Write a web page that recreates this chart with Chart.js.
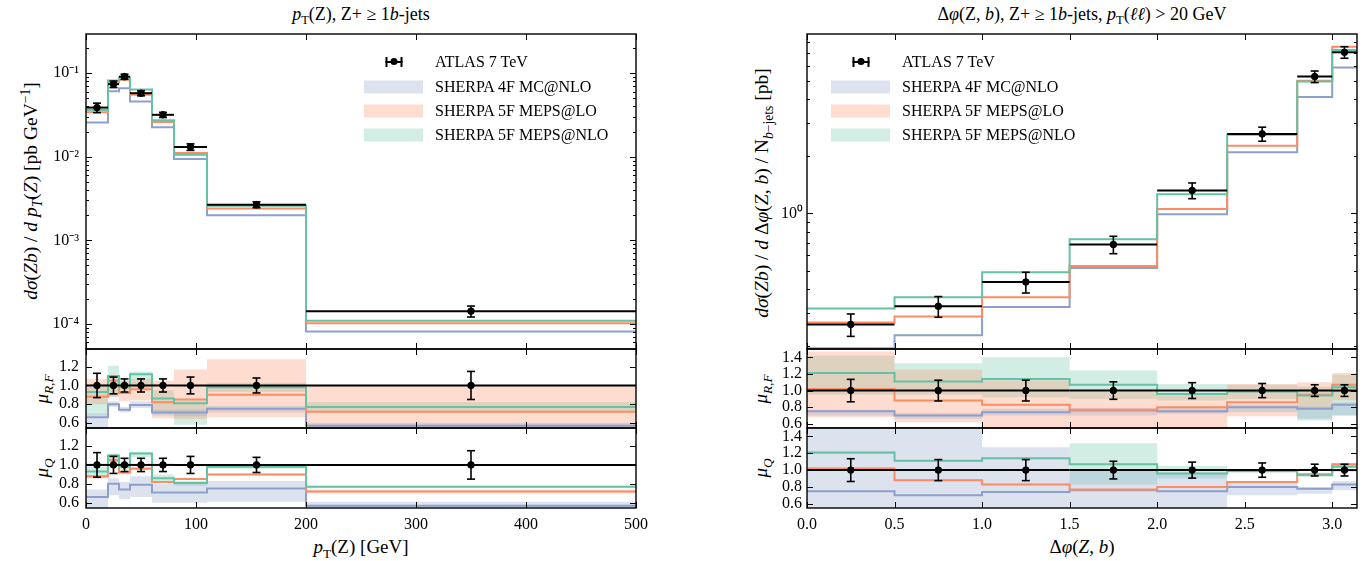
<!DOCTYPE html>
<html>
<head>
<meta charset="utf-8">
<script src="https://cdn.jsdelivr.net/npm/chart.js@4.4.0/dist/chart.umd.min.js"></script>
<style>
body{margin:0;background:#fff;width:1367px;height:561px;position:relative;overflow:hidden;font-family:'Liberation Serif',serif;color:#000}
canvas{position:absolute}
.t{position:absolute;white-space:nowrap;transform:translate(-50%,-50%);font-size:17px}
.r{transform:translate(-50%,-50%) rotate(-90deg)}
.leg{position:absolute;font-size:16px;white-space:nowrap;transform:translateY(-50%)}
.patch{position:absolute;width:59px;height:13px;transform:translateY(-50%)}
.mk{position:absolute;width:17px;height:2px;background:#000;transform:translate(-50%,-50%)}
.mk i{position:absolute;background:#000}
sub,sup{font-size:70%;line-height:0}
</style>
</head>
<body>

<div class="t" style="left:361px;top:14px;font-size:18px"><i>p</i><sub>T</sub>(Z), Z+ &ge; 1<i>b</i>-jets</div>
<div class="t" style="left:1082px;top:14px;font-size:18px">&Delta;<i>&phi;</i>(Z, <i>b</i>), Z+ &ge; 1<i>b</i>-jets, <i>p</i><sub>T</sub>(<i>&ell;&ell;</i>) &gt; 20 GeV</div>

<div class="t r" style="left:31px;top:191px;font-size:19.5px"><i>d&sigma;</i>(<i>Zb</i>) / <i>d p<sub>T</sub></i>(<i>Z</i>) [pb GeV<sup>&minus;1</sup>]</div>
<div class="t r" style="left:762px;top:193px;font-size:19.5px"><i>d&sigma;</i>(<i>Zb</i>) / <i>d</i> &Delta;<i>&phi;</i>(<i>Z</i>, <i>b</i>) / N<sub><i>b</i>&minus;jets</sub> [pb]</div>
<div class="t r" style="left:42px;top:389px;font-size:19px"><i>&mu;<sub>R,F</sub></i></div>
<div class="t r" style="left:42px;top:468px;font-size:19px"><i>&mu;<sub>Q</sub></i></div>
<div class="t r" style="left:761px;top:389px;font-size:19px"><i>&mu;<sub>R,F</sub></i></div>
<div class="t r" style="left:761px;top:468px;font-size:19px"><i>&mu;<sub>Q</sub></i></div>

<div class="t" style="left:361px;top:547px;font-size:19px"><i>p</i><sub>T</sub>(Z) [GeV]</div>
<div class="t" style="left:1082px;top:547px;font-size:19px">&Delta;<i>&phi;</i>(<i>Z</i>, <i>b</i>)</div>

<script>
// p_T(Z) distribution
const ptEdges = [0, 20, 30, 40, 60, 80, 110, 200, 500];
const ptCentres = [10, 25, 35, 50, 70, 95, 155, 350];
const ptData = [0.0388, 0.074, 0.091, 0.0577, 0.0318, 0.0131, 0.00267, 1.42e-4];
const ptErr = [0.13, 0.09, 0.07, 0.07, 0.07, 0.09, 0.08, 0.15];
const pt4F = [0.0258, 0.061, 0.066, 0.0458, 0.0226, 0.0094, 0.0020, 8.1e-5];
const ptLO = [0.0341, 0.0777, 0.0837, 0.0554, 0.0261, 0.0111, 0.0024, 1.02e-4];
const ptNLO = [0.0362, 0.082, 0.089, 0.064, 0.0273, 0.0106, 0.0026, 1.09e-4];
// ratio to data
const ptR4F = [0.66, 0.80, 0.74, 0.79, 0.71, 0.71, 0.75, 0.57];
const ptRLO = [0.88, 1.05, 0.92, 0.96, 0.82, 0.85, 0.90, 0.72];
const ptRNLO = [0.93, 1.10, 0.98, 1.12, 0.86, 0.81, 0.98, 0.77];
// mu_R,F bands
const ptRF4Flo = [0.55, 0.77, 0.71, 0.76, 0.68, 0.67, 0.71, 0.54];
const ptRF4Fhi = [0.70, 0.83, 0.77, 0.83, 0.74, 0.74, 0.78, 0.60];
const ptRFLOlo = [0.80, 0.88, 0.83, 0.84, 0.65, 0.64, 0.66, 0.54];
const ptRFLOhi = [1.07, 1.10, 1.05, 1.07, 1.05, 1.17, 1.28, 1.0];
const ptRFNLOlo = [0.68, 0.88, 0.95, 0.97, 0.70, 0.58, 0.93, 0.72];
const ptRFNLOhi = [1.0, 1.21, 1.05, 1.15, 0.95, 0.84, 1.03, 0.82];
// mu_Q bands
const ptQ4Flo = [0.54, 0.68, 0.64, 0.66, 0.60, 0.60, 0.61, 0.54];
const ptQ4Fhi = [0.74, 0.86, 0.82, 0.88, 0.80, 0.80, 0.83, 0.61];
const ptQLOlo = [0.86, 1.03, 0.90, 0.95, 0.81, 0.84, 0.89, 0.70];
const ptQLOhi = [0.89, 1.07, 0.93, 0.98, 0.83, 0.86, 0.91, 0.74];
const ptQNLOlo = [0.86, 1.03, 0.95, 1.08, 0.83, 0.78, 0.96, 0.76];
const ptQNLOhi = [0.98, 1.12, 1.02, 1.14, 0.90, 0.83, 1.0, 0.78];

// delta phi(Z,b) distribution
const dpEdges = [0, 0.5, 1.0, 1.5, 2.0, 2.4, 2.8, 3.0, Math.PI];
const dpCentres = [0.25, 0.75, 1.25, 1.75, 2.2, 2.6, 2.9, 3.07];
const dpData = [0.26, 0.324, 0.435, 0.685, 1.32, 2.62, 5.25, 7.05];
const dpErr = [0.135, 0.125, 0.125, 0.105, 0.095, 0.085, 0.07, 0.07];
const dp4F = [0.195, 0.228, 0.321, 0.515, 0.99, 2.10, 4.10, 5.87];
const dpLO = [0.266, 0.286, 0.362, 0.528, 1.055, 2.27, 4.99, 7.54];
const dpNLO = [0.315, 0.361, 0.49, 0.73, 1.26, 2.59, 4.94, 7.25];
const dpR4F = [0.75, 0.70, 0.74, 0.76, 0.75, 0.80, 0.78, 0.83];
const dpRLO = [1.02, 0.88, 0.83, 0.77, 0.80, 0.86, 0.95, 1.07];
const dpRNLO = [1.21, 1.11, 1.14, 1.07, 0.96, 0.99, 0.94, 1.04];
const dpRF4Flo = [0.70, 0.66, 0.70, 0.70, 0.72, 0.74, 0.66, 0.70];
const dpRF4Fhi = [0.77, 0.73, 0.78, 0.79, 0.79, 0.83, 0.81, 0.86];
const dpRFLOlo = [0.68, 0.62, 0.56, 0.55, 0.55, 0.69, 0.78, 0.88];
const dpRFLOhi = [1.47, 1.25, 1.12, 0.98, 0.96, 1.08, 1.10, 1.21];
const dpRFNLOlo = [0.95, 0.95, 0.92, 0.90, 0.88, 0.90, 0.64, 0.70];
const dpRFNLOhi = [1.42, 1.33, 1.40, 1.24, 1.08, 1.07, 1.05, 1.19];
const dpQ4Flo = [0.54, 0.54, 0.54, 0.54, 0.54, 0.70, 0.72, 0.76];
const dpQ4Fhi = [1.6, 1.6, 1.27, 1.0, 0.97, 0.86, 0.80, 0.87];
const dpQLOlo = [1.01, 0.87, 0.82, 0.76, 0.79, 0.85, 0.93, 1.05];
const dpQLOhi = [1.03, 0.89, 0.84, 0.78, 0.81, 0.87, 0.96, 1.08];
const dpQNLOlo = [1.19, 1.10, 1.13, 0.83, 0.90, 0.97, 0.93, 1.03];
const dpQNLOhi = [1.22, 1.12, 1.15, 1.32, 1.05, 1.0, 0.96, 1.06];

const legendLabels = ['ATLAS 7 TeV', 'SHERPA 4F MC@NLO', 'SHERPA 5F MEPS@LO', 'SHERPA 5F MEPS@NLO'];

const BLUE = '#8da0cb', ORANGE = '#fc8d62', GREEN = '#66c2a5';
const BLUE_B = 'rgba(141,160,203,0.3)', ORANGE_B = 'rgba(252,141,98,0.3)', GREEN_B = 'rgba(102,194,165,0.3)';

Chart.defaults.font.family = "'Liberation Serif', serif";
Chart.defaults.font.size = 16;
Chart.defaults.color = '#000';

function steps(edges, vals) {
  const pts = vals.map((v, i) => ({x: edges[i], y: v}));
  pts.push({x: edges[edges.length - 1], y: vals[vals.length - 1]});
  return pts;
}
function line(edges, vals, color, order) {
  return {data: steps(edges, vals), stepped: 'before', borderColor: color, borderWidth: 2,
    pointRadius: 0, fill: false, order: order};
}
function band(edges, lo, hi, color) {
  return [
    {data: steps(edges, hi), stepped: 'before', borderWidth: 0, borderColor: 'rgba(0,0,0,0)',
      pointRadius: 0, fill: '+1', backgroundColor: color, order: 20},
    {data: steps(edges, lo), stepped: 'before', borderWidth: 0, borderColor: 'rgba(0,0,0,0)',
      pointRadius: 0, fill: false, order: 20}
  ];
}
function points(xs, ys) {
  return {data: xs.map((x, i) => ({x: x, y: ys[i]})), showLine: false, pointRadius: 3.3,
    pointBackgroundColor: '#000', pointBorderColor: '#000', order: 1};
}

const sup = {'-': '\u207b', '0': '\u2070', '1': '\u00b9', '2': '\u00b2', '3': '\u00b3', '4': '\u2074'};
function logTicks(lo, hi) {
  const out = [];
  for (let e = -6; e <= 2; e++) for (let m = 1; m < 10; m++) {
    const v = m * Math.pow(10, e);
    if (v >= lo && v <= hi) out.push({value: v, major: m === 1});
  }
  return out;
}
function logLabel(v) {
  const e = Math.round(Math.log10(v));
  if (Math.abs(Math.log10(v) - e) > 1e-6) return '';
  return '10' + String(e).split('').map(c => sup[c]).join('');
}

// box, inside ticks on all sides, error bars
const frame = {
  id: 'frame',
  afterDatasetsDraw(chart, args, opts) {
    const {ctx, chartArea: a} = chart;
    const x = chart.scales.x, y = chart.scales.y;
    ctx.save();
    ctx.strokeStyle = '#000';
    const seg = (x0, y0, x1, y1) => { ctx.beginPath(); ctx.moveTo(x0, y0); ctx.lineTo(x1, y1); ctx.stroke(); };
    if (opts.bars) {
      const b = opts.bars;
      b.vals.forEach((v, i) => {
        const py = y.getPixelForValue(v);
        const px = x.getPixelForValue(b.centres[i]);
        ctx.lineWidth = 2;
        seg(x.getPixelForValue(b.edges[i]), py, x.getPixelForValue(b.edges[i + 1]), py);
        const t = y.getPixelForValue(v * (1 + b.err[i]));
        const d = y.getPixelForValue(v * (1 - b.err[i]));
        ctx.lineWidth = 1.6;
        seg(px, t, px, d);
        seg(px - 4, t, px + 4, t);
        seg(px - 4, d, px + 4, d);
      });
    }
    ctx.lineWidth = 1;
    x.ticks.forEach(t => {
      const px = Math.round(x.getPixelForValue(t.value)) + 0.5;
      seg(px, a.top, px, a.top + 6);
      seg(px, a.bottom, px, a.bottom - 6);
    });
    y.ticks.forEach(t => {
      const py = Math.round(y.getPixelForValue(t.value)) + 0.5;
      const L = t.major ? 6 : 3;
      seg(a.left, py, a.left + L, py);
      seg(a.right, py, a.right - L, py);
    });
    ctx.lineWidth = 1.4;
    ctx.strokeRect(a.left, a.top, a.right - a.left, a.bottom - a.top);
    ctx.restore();
  }
};

function panel(o) {
  const cv = document.createElement('canvas');
  cv.width = o.w; cv.height = o.h;
  cv.style.left = o.left + 'px'; cv.style.top = o.top + 'px';
  cv.style.width = o.w + 'px'; cv.style.height = o.h + 'px';
  document.body.appendChild(cv);
  return new Chart(cv, {
    type: 'line',
    data: {datasets: o.datasets},
    options: {
      responsive: false, animation: false, events: [],
      layout: {padding: o.pad},
      plugins: {legend: {display: false}, tooltip: {enabled: false}, frame: {bars: o.bars}},
      scales: {
        x: {type: 'linear', min: o.x.min, max: o.x.max,
          grid: {display: false, drawTicks: false}, border: {display: false},
          ticks: {display: !!o.xH, autoSkip: false, maxRotation: 0, padding: 7, callback: o.x.fmt},
          afterBuildTicks: s => { s.ticks = o.x.ticks.map(v => ({value: v, major: true})); },
          afterFit: s => { s.height = o.xH || 0; s.paddingLeft = 0; s.paddingRight = 0; }},
        y: {type: o.y.type, min: o.y.min, max: o.y.max,
          grid: {display: false, drawTicks: false}, border: {display: false},
          ticks: {autoSkip: false, padding: o.y.pad, callback: o.y.fmt},
          afterBuildTicks: s => { s.ticks = o.y.ticks; },
          afterFit: s => { s.width = o.yW; s.paddingTop = 0; s.paddingBottom = 0; }}
      }
    },
    plugins: [frame]
  });
}

function side(L) {
  const left = L.left, w = L.w, pad = L.padR;
  const xAxis = L.x;
  const ones = L.centres.map(() => 1);
  const ratioBars = {centres: L.centres, edges: L.edges, vals: ones, err: L.err};
  // main
  panel({left: left, top: 24, w: w, h: 335, pad: {left: 0, right: pad, top: 10, bottom: 10}, yW: L.yW,
    x: xAxis, y: L.yMain,
    datasets: [line(L.edges, L.m4F, BLUE, 7), line(L.edges, L.mLO, ORANGE, 6), line(L.edges, L.mNLO, GREEN, 5),
      points(L.centres, L.data)],
    bars: {centres: L.centres, edges: L.edges, vals: L.data, err: L.err}});
  // mu_R,F
  panel({left: left, top: 339, w: w, h: 99, pad: {left: 0, right: pad, top: 10, bottom: 10}, yW: L.yW,
    x: xAxis, y: L.yRatio,
    datasets: [...band(L.edges, L.rf[0], L.rf[1], BLUE_B), ...band(L.edges, L.rf[2], L.rf[3], ORANGE_B),
      ...band(L.edges, L.rf[4], L.rf[5], GREEN_B),
      line(L.edges, L.r4F, BLUE, 7), line(L.edges, L.rLO, ORANGE, 6), line(L.edges, L.rNLO, GREEN, 5),
      points(L.centres, ones)],
    bars: ratioBars});
  // mu_Q
  panel({left: left, top: 418, w: w, h: 140, pad: {left: 0, right: pad, top: 10, bottom: 0}, yW: L.yW, xH: 50,
    x: xAxis, y: L.yRatio,
    datasets: [...band(L.edges, L.q[0], L.q[1], BLUE_B), ...band(L.edges, L.q[2], L.q[3], ORANGE_B),
      ...band(L.edges, L.q[4], L.q[5], GREEN_B),
      line(L.edges, L.r4F, BLUE, 7), line(L.edges, L.rLO, ORANGE, 6), line(L.edges, L.rNLO, GREEN, 5),
      points(L.centres, ones)],
    bars: ratioBars});

  // legend
  const rows = [62, 87, 111, 135];
  const cols = [null, BLUE_B, ORANGE_B, GREEN_B];
  legendLabels.forEach((lab, i) => {
    const tx = document.createElement('div');
    tx.className = 'leg';
    tx.style.left = L.legX + 71 + 'px'; tx.style.top = rows[i] + 'px';
    tx.textContent = lab;
    document.body.appendChild(tx);
    if (i === 0) {
      const mk = document.createElement('div');
      mk.className = 'mk';
      mk.style.left = L.legX + 29.5 + 'px'; mk.style.top = rows[i] + 'px';
      mk.innerHTML = '<i style="left:0;top:-4px;width:2px;height:10px"></i>' +
        '<i style="right:0;top:-4px;width:2px;height:10px"></i>' +
        '<i style="left:5px;top:-3px;width:7px;height:7px;border-radius:50%"></i>';
      document.body.appendChild(mk);
    } else {
      const p = document.createElement('div');
      p.className = 'patch';
      p.style.left = L.legX + 'px'; p.style.top = rows[i] + 'px';
      p.style.background = cols[i];
      document.body.appendChild(p);
    }
  });
}

side({left: 0, w: 680, padR: 44, yW: 86, legX: 364,
  edges: ptEdges, centres: ptCentres, data: ptData, err: ptErr,
  m4F: pt4F, mLO: ptLO, mNLO: ptNLO, r4F: ptR4F, rLO: ptRLO, rNLO: ptRNLO,
  rf: [ptRF4Flo, ptRF4Fhi, ptRFLOlo, ptRFLOhi, ptRFNLOlo, ptRFNLOhi],
  q: [ptQ4Flo, ptQ4Fhi, ptQLOlo, ptQLOhi, ptQNLOlo, ptQNLOhi],
  x: {min: 0, max: 500, ticks: [0, 100, 200, 300, 400, 500], fmt: v => String(v)},
  yMain: {type: 'logarithmic', min: 5e-5, max: 0.295, ticks: logTicks(5e-5, 0.295), fmt: logLabel, pad: 7},
  yRatio: {type: 'linear', min: 0.545, max: 1.39,
    ticks: [0.6, 0.8, 1.0, 1.2].map(v => ({value: v, major: true})), fmt: v => v.toFixed(1), pad: 7}});

side({left: 680, w: 687, padR: 10, yW: 127, legX: 831,
  edges: dpEdges, centres: dpCentres, data: dpData, err: dpErr,
  m4F: dp4F, mLO: dpLO, mNLO: dpNLO, r4F: dpR4F, rLO: dpRLO, rNLO: dpRNLO,
  rf: [dpRF4Flo, dpRF4Fhi, dpRFLOlo, dpRFLOhi, dpRFNLOlo, dpRFNLOhi],
  q: [dpQ4Flo, dpQ4Fhi, dpQLOlo, dpQLOhi, dpQNLOlo, dpQNLOhi],
  x: {min: 0, max: Math.PI, ticks: [0, 0.5, 1.0, 1.5, 2.0, 2.5, 3.0], fmt: v => v.toFixed(1)},
  yMain: {type: 'logarithmic', min: 0.193, max: 8.8, ticks: logTicks(0.193, 8.8), fmt: logLabel, pad: 4},
  yRatio: {type: 'linear', min: 0.55, max: 1.5,
    ticks: [0.6, 0.8, 1.0, 1.2, 1.4].map(v => ({value: v, major: true})), fmt: v => v.toFixed(1), pad: 5}});
</script>
</body>
</html>
